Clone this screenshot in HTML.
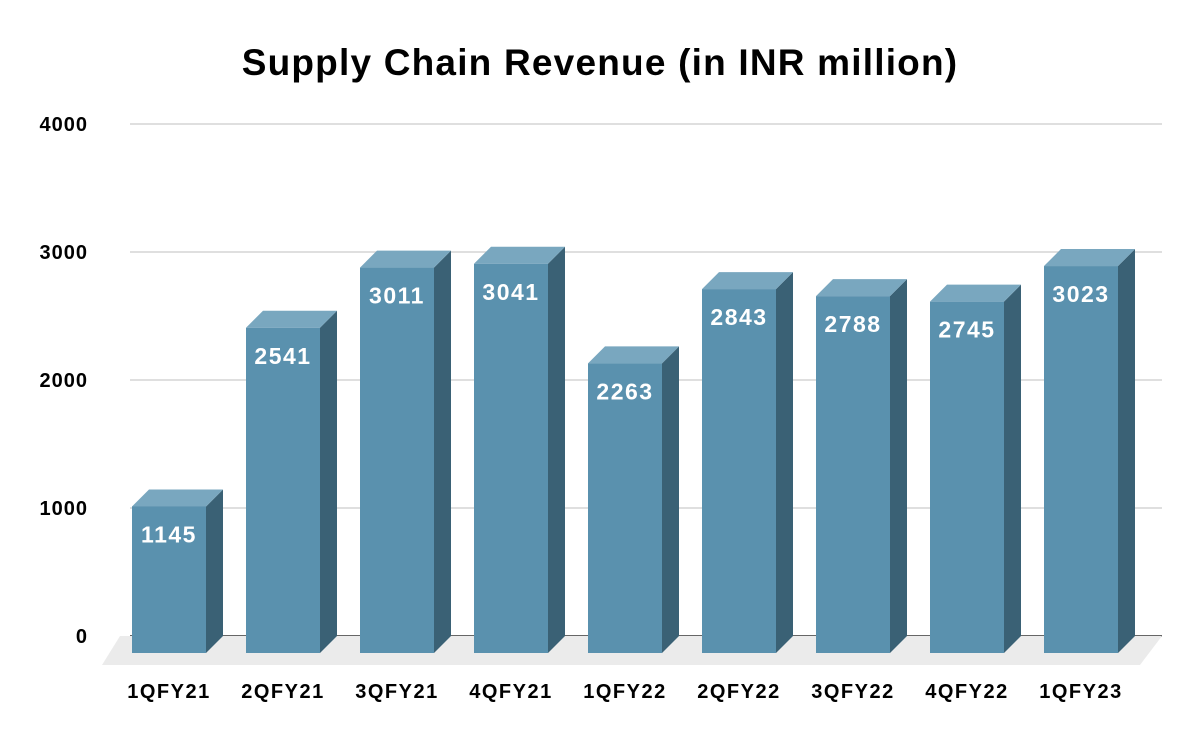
<!DOCTYPE html>
<html><head><meta charset="utf-8"><style>
body{margin:0;background:#fff;font-family:"Liberation Sans",Arial,sans-serif}
</style></head><body>
<svg id="c" width="1200" height="742" xmlns="http://www.w3.org/2000/svg">
<text x="600" y="75" text-anchor="middle" font-size="37" font-weight="bold" letter-spacing="1.2" fill="#000">Supply Chain Revenue (in INR million)</text>
</svg>
<script>
const categories=["1QFY21","2QFY21","3QFY21","4QFY21","1QFY22","2QFY22","3QFY22","4QFY22","1QFY23"];
const values=[1145,2541,3011,3041,2263,2843,2788,2745,3023];
const yTicks=[0,1000,2000,3000,4000];
const svg=document.getElementById('c');
const NS="http://www.w3.org/2000/svg";
const y0=636,scale=0.128,d=17,bw=74,x0=132,step=114;
function yS(v){return y0-v*scale;}
function xS(i){return x0+i*step;}
function mk(t,a,p){const e=document.createElementNS(NS,t);for(const k in a)e.setAttribute(k,a[k]);(p||svg).appendChild(e);return e;}
yTicks.forEach(t=>{
  const g=mk('line',{x1:130,x2:1162,y1:yS(t),y2:yS(t),stroke:t===0?'#333':'#ccc','stroke-width':t===0?1.5:1.2});
  
  
  const l=mk('text',{x:88,y:yS(t)+7,'text-anchor':'end','font-size':20,'font-weight':'bold','letter-spacing':1,fill:'#000'});
  l.textContent=t;
  
  
});
const fl=mk('polygon',{points:`120,${y0} 1162,${y0} 1140,${y0+29} 102,${y0+29}`,fill:'#ebebeb'});


values.forEach((v,i)=>{
  const x=xS(i),top=yS(v)+d,bot=y0+d;
  const g=mk('g',{});
  
  
  mk('polygon',{points:`${x+bw},${top} ${x+bw+d},${top-d} ${x+bw+d},${bot-d} ${x+bw},${bot}`,fill:'#3a6175'},g);
  mk('polygon',{points:`${x},${top} ${x+d},${top-d} ${x+bw+d},${top-d} ${x+bw},${top}`,fill:'#79a7bf'},g);
  mk('rect',{x:x,y:top,width:bw,height:bot-top,fill:'#5a91ae'},g);
  const t=mk('text',{x:x+bw/2,y:top+36,'text-anchor':'middle','font-size':23,'font-weight':'bold','letter-spacing':1.5,fill:'#fff'});
  t.textContent=v;
  
  
  const c=mk('text',{x:x+bw/2,y:698,'text-anchor':'middle','font-size':20,'font-weight':'bold','letter-spacing':1.5,fill:'#000'});
  c.textContent=categories[i];
  
  
});
</script>
</body></html>
